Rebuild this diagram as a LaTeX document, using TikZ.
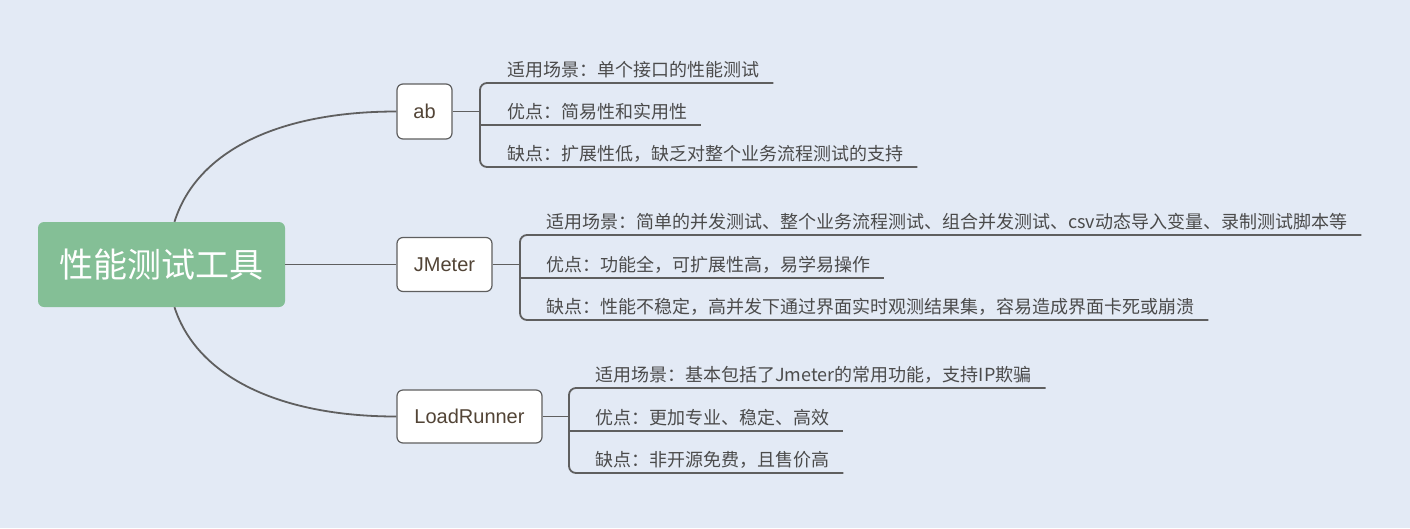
\documentclass[tikz,border=0pt]{standalone}
\usepackage{fontspec}
\setmainfont{Noto Sans CJK SC}
\newfontfamily\latinsans{Liberation Sans}
\usetikzlibrary{calc}
\definecolor{bg}{RGB}{227,234,245}
\definecolor{rootgreen}{RGB}{132,191,150}
\definecolor{linegray}{RGB}{95,95,95}
\definecolor{txt}{RGB}{75,75,75}
\definecolor{boxtxt}{RGB}{82,68,54}
\tikzset{
  conn/.style={draw=linegray, line width=1.8pt},
  rootbox/.style={fill=rootgreen, rounded corners=6pt, minimum width=247pt, minimum height=85pt, text=white, font=\fontsize{34}{40}\selectfont, inner sep=0pt},
  toolbox/.style={draw=linegray, fill=white, line width=1.2pt, rounded corners=6pt, text=boxtxt, font=\latinsans\fontsize{20}{24}\selectfont, inner sep=0pt},
  leaf/.style={anchor=west, inner sep=0pt, text=txt, font=\fontsize{18}{22}\selectfont}
}
\begin{document}
\begin{tikzpicture}[x=1pt,y=-1pt]
\fill[bg] (0,0) rectangle (1410,528);
\useasboundingbox (0,0) rectangle (1410,528);

% root and tools
\node[rootbox] (root) at (161.5,264.5) {性能测试工具};
\node[toolbox, minimum width=55pt, minimum height=55pt] (ab) at (424.5,111.5) {ab};
\node[toolbox, minimum width=95pt, minimum height=54pt] (jm) at (444.5,264.5) {JMeter};
\node[toolbox, minimum width=145pt, minimum height=53pt] (lr) at (469.5,416.5) {LoadRunner};

% root connectors
\coordinate (rtop) at ([xshift=13pt]root.north);
\coordinate (rbot) at ([xshift=13pt]root.south);
\draw[conn] (rtop) .. controls (197,150) and (280,111.5) .. (ab.west);
\draw[conn] (root.east) -- (jm.west);
\draw[conn] (rbot) .. controls (197,377) and (280,416.5) .. (lr.west);

% ab leaves
\coordinate (abB) at (480,111.5);
\node[leaf] (a1) at (507,70) {适用场景：单个接口的性能测试};
\node[leaf] (a2) at (507,112) {优点：简易性和实用性};
\node[leaf] (a3) at (507,154) {缺点：扩展性低，缺乏对整个业务流程测试的支持};
\coordinate (a1u) at ($(a1.east)+(14,13)$);
\coordinate (a2u) at ($(a2.east)+(14,13)$);
\coordinate (a3u) at ($(a3.east)+(14,13)$);
\draw[conn] (ab.east) -- (abB);
\draw[conn, rounded corners=7pt] (a1u) -- (a1u -| abB) -- (a3u -| abB) -- (a3u);
\draw[conn] (a2u -| abB) -- (a2u);

% JMeter leaves
\coordinate (jmB) at (520,264.5);
\node[leaf] (j1) at (546,222) {适用场景：简单的并发测试、整个业务流程测试、组合并发测试、csv动态导入变量、录制测试脚本等};
\node[leaf] (j2) at (546,265) {优点：功能全，可扩展性高，易学易操作};
\node[leaf] (j3) at (546,307) {缺点：性能不稳定，高并发下通过界面实时观测结果集，容易造成界面卡死或崩溃};
\coordinate (j1u) at ($(j1.east)+(14,13)$);
\coordinate (j2u) at ($(j2.east)+(14,13)$);
\coordinate (j3u) at ($(j3.east)+(14,13)$);
\draw[conn] (jm.east) -- (jmB);
\draw[conn, rounded corners=7pt] (j1u) -- (j1u -| jmB) -- (j3u -| jmB) -- (j3u);
\draw[conn] (j2u -| jmB) -- (j2u);

% LoadRunner leaves
\coordinate (lrB) at (569,416.5);
\node[leaf] (l1) at (595,375) {适用场景：基本包括了Jmeter的常用功能，支持IP欺骗};
\node[leaf] (l2) at (595,418) {优点：更加专业、稳定、高效};
\node[leaf] (l3) at (595,460) {缺点：非开源免费，且售价高};
\coordinate (l1u) at ($(l1.east)+(14,13)$);
\coordinate (l2u) at ($(l2.east)+(14,13)$);
\coordinate (l3u) at ($(l3.east)+(14,13)$);
\draw[conn] (lr.east) -- (lrB);
\draw[conn, rounded corners=7pt] (l1u) -- (l1u -| lrB) -- (l3u -| lrB) -- (l3u);
\draw[conn] (l2u -| lrB) -- (l2u);
\end{tikzpicture}
\end{document}
